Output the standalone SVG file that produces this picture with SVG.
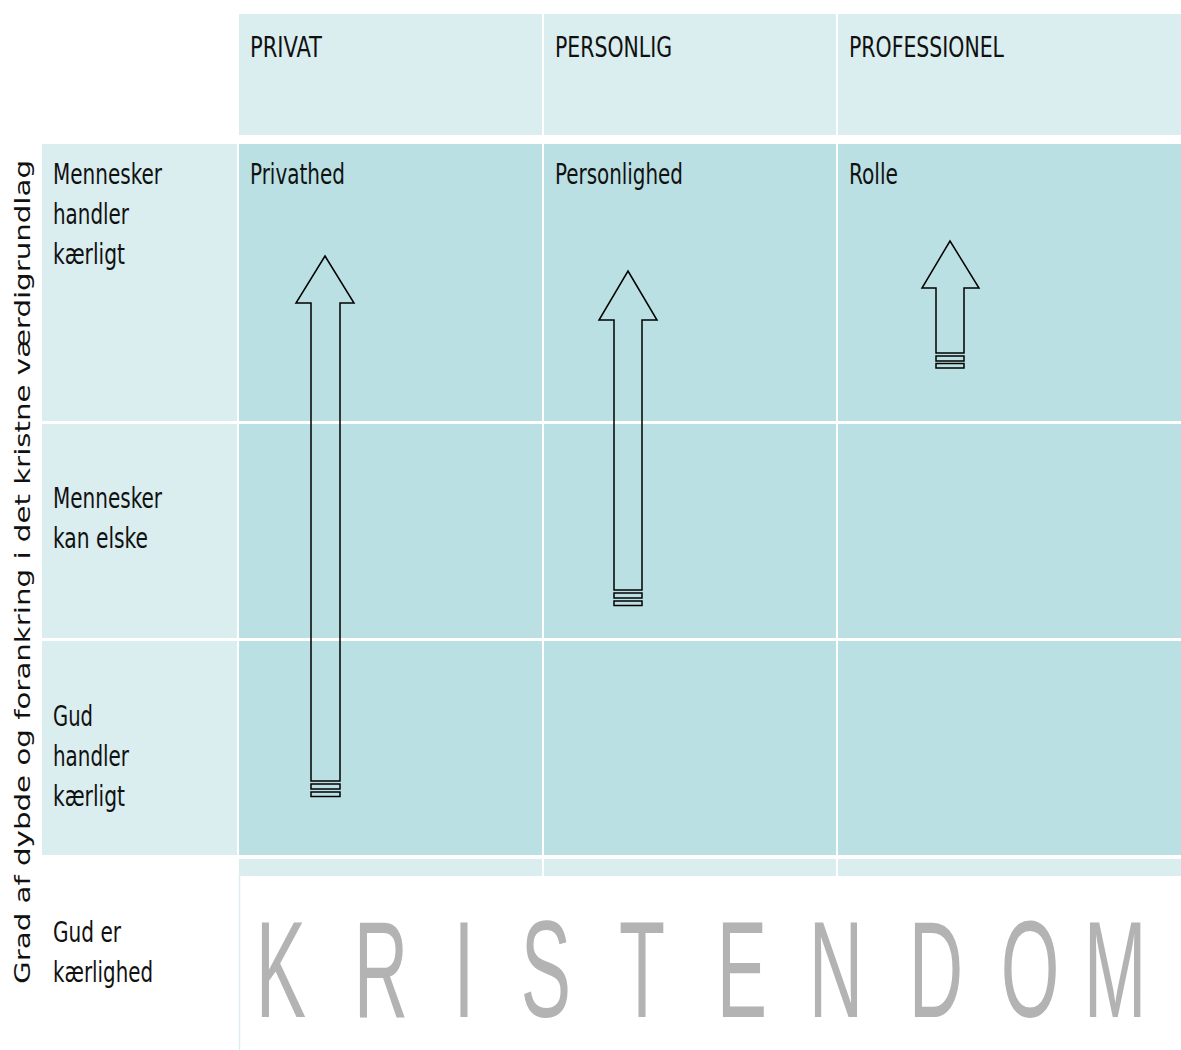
<svg xmlns="http://www.w3.org/2000/svg" width="1181" height="1050" viewBox="0 0 1181 1050">
<style>
.hd{fill:#DAEDEF}
.bd{fill:#BAE0E3}
.t{font-family:"DejaVu Sans Condensed","DejaVu Sans",sans-serif;font-size:28px;fill:#111}
.arr{fill:none;stroke:#000;stroke-width:1.5;stroke-linejoin:miter}
.big{font-family:"Liberation Sans",Arial,sans-serif;font-size:137px;fill:#B3B3B3;text-anchor:middle}
.side{font-family:"DejaVu Sans",Verdana,sans-serif;font-size:21px;fill:#111}
</style>
<rect width="1181" height="1050" fill="#fff"/>
<g id="header">
<rect class="hd" x="239" y="14" width="303" height="121"/>
<rect class="hd" x="544" y="14" width="292" height="121"/>
<rect class="hd" x="838" y="14" width="343" height="121"/>
<text class="t" x="250" y="57" textLength="72" lengthAdjust="spacingAndGlyphs">PRIVAT</text>
<text class="t" x="555" y="57" textLength="117" lengthAdjust="spacingAndGlyphs">PERSONLIG</text>
<text class="t" x="849" y="57" textLength="155" lengthAdjust="spacingAndGlyphs">PROFESSIONEL</text>
</g>
<g id="left-column">
<rect class="hd" x="42" y="144" width="195" height="277"/>
<rect class="hd" x="42" y="424" width="195" height="214"/>
<rect class="hd" x="42" y="641" width="195" height="214"/>
<text class="t" x="53" y="184" textLength="109" lengthAdjust="spacingAndGlyphs">Mennesker</text>
<text class="t" x="53" y="224" textLength="76" lengthAdjust="spacingAndGlyphs">handler</text>
<text class="t" x="53" y="264" textLength="72" lengthAdjust="spacingAndGlyphs">kærligt</text>
<text class="t" x="53" y="508" textLength="109" lengthAdjust="spacingAndGlyphs">Mennesker</text>
<text class="t" x="53" y="548" textLength="95" lengthAdjust="spacingAndGlyphs">kan elske</text>
<text class="t" x="53" y="726" textLength="40" lengthAdjust="spacingAndGlyphs">Gud</text>
<text class="t" x="53" y="766" textLength="76" lengthAdjust="spacingAndGlyphs">handler</text>
<text class="t" x="53" y="806" textLength="72" lengthAdjust="spacingAndGlyphs">kærligt</text>
<text class="t" x="53" y="942" textLength="68" lengthAdjust="spacingAndGlyphs">Gud er</text>
<text class="t" x="53" y="982" textLength="100" lengthAdjust="spacingAndGlyphs">kærlighed</text>
</g>
<g id="body">
<rect class="bd" x="239" y="144" width="303" height="277"/>
<rect class="bd" x="544" y="144" width="292" height="277"/>
<rect class="bd" x="838" y="144" width="343" height="277"/>
<rect class="bd" x="239" y="424" width="303" height="214"/>
<rect class="bd" x="544" y="424" width="292" height="214"/>
<rect class="bd" x="838" y="424" width="343" height="214"/>
<rect class="bd" x="239" y="641" width="303" height="214"/>
<rect class="bd" x="544" y="641" width="292" height="214"/>
<rect class="bd" x="838" y="641" width="343" height="214"/>
<rect class="hd" x="239" y="859" width="303" height="17"/>
<rect class="hd" x="544" y="859" width="292" height="17"/>
<rect class="hd" x="838" y="859" width="343" height="17"/>
<line x1="239.5" y1="876" x2="239.5" y2="1050" stroke="#DAEDEF" stroke-width="1.5"/>
<text class="t" x="250" y="184" textLength="95" lengthAdjust="spacingAndGlyphs">Privathed</text>
<text class="t" x="555" y="184" textLength="128" lengthAdjust="spacingAndGlyphs">Personlighed</text>
<text class="t" x="849" y="184" textLength="49" lengthAdjust="spacingAndGlyphs">Rolle</text>
</g>
<g id="arrows">
<g id="arrow-privat">
<path class="arr" d="M325,256 L354,303 L340,303 L340,781 L311,781 L311,303 L296,303 Z"/>
<rect class="arr" x="311" y="784" width="29" height="5"/>
<rect class="arr" x="311" y="792" width="29" height="4.5"/>
</g>
<g id="arrow-personlig">
<path class="arr" d="M628,271 L657,320 L642,320 L642,590 L614,590 L614,320 L599,320 Z"/>
<rect class="arr" x="614" y="593" width="28" height="5"/>
<rect class="arr" x="614" y="601" width="28" height="4.5"/>
</g>
<g id="arrow-professionel">
<path class="arr" d="M950,241 L979,288 L964,288 L964,353 L936,353 L936,288 L922,288 Z"/>
<rect class="arr" x="936" y="356" width="28" height="5"/>
<rect class="arr" x="936" y="363.5" width="28" height="4.5"/>
</g>
</g>
<g id="kristendom">
<text class="big" transform="scale(0.55,1)" y="1017"><tspan x="510.9">K</tspan><tspan x="692.7">R</tspan><tspan x="843.6">I</tspan><tspan x="992.7">S</tspan><tspan x="1167.3">T</tspan><tspan x="1349.1">E</tspan><tspan x="1520">N</tspan><tspan x="1701.8">D</tspan><tspan x="1872.7">O</tspan><tspan x="2027.3">M</tspan></text>
</g>
<g id="axis-label">
<text class="side" transform="translate(30,984) rotate(-90)" x="0" y="0" textLength="824" lengthAdjust="spacingAndGlyphs">Grad af dybde og forankring i det kristne værdigrundlag</text>
</g>
</svg>
